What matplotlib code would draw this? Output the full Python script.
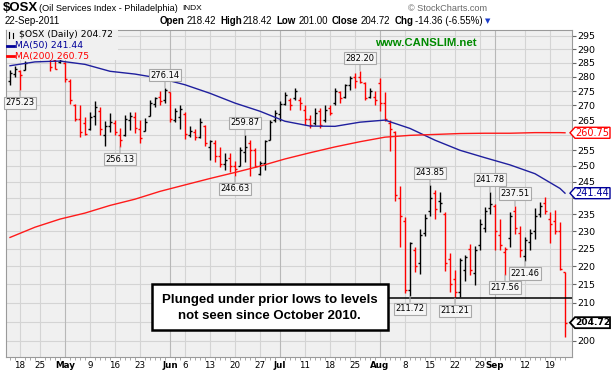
import matplotlib
matplotlib.use('Agg')
import matplotlib.pyplot as plt
import numpy as np
import pandas as pd
from matplotlib.patches import Polygon, Rectangle
from matplotlib.lines import Line2D
from matplotlib.ticker import NullLocator, NullFormatter

# trading days on the chart (market holidays removed)
holidays = ['2011-04-22', '2011-05-30', '2011-07-04', '2011-09-05']
dates = pd.bdate_range('2011-04-14', '2011-09-22')
dates = dates[~dates.isin(pd.to_datetime(holidays))]

opens = [278.5, 281.0, 282.0, 282.5, 286.8, 289.5, 289.5, 287.5, 288.5, 286.0,
         285.2, 285.0, 278.5, 270.0, 265.5, 264.0, 262.0, 266.5, 268.0, 260.0,
         263.0, 264.0, 260.0, 260.0, 265.0, 266.0, 262.0, 261.5, 266.5, 270.5,
         273.0, 272.0, 274.5, 265.0, 266.0, 267.0, 260.0, 261.0, 259.5, 263.0,
         256.0, 257.5, 253.0, 250.5, 252.5, 250.0, 250.0, 254.5, 257.5, 255.0,
         247.5, 251.0, 258.5, 265.0, 267.0, 270.5, 272.0, 272.5, 272.0, 268.5,
         265.5, 264.0, 268.0, 265.0, 269.0, 271.0, 274.5, 273.0, 277.0, 280.0,
         280.0, 278.0, 273.0, 273.0, 278.0, 271.0, 264.0, 261.0, 240.0, 233.0,
         213.5, 224.5, 221.0, 229.5, 236.0, 241.5, 239.0, 235.0, 222.0, 216.5,
         213.0, 219.0, 225.0, 218.0, 226.0, 231.0, 237.0, 237.5, 229.0, 224.0,
         228.0, 236.0, 229.5, 223.0, 227.0, 230.0, 235.0, 238.5, 233.5, 233.0,
         230.0, 218.42]
highs = [282.5, 283.8, 282.3, 285.7, 289.5, 291.0, 290.5, 290.0, 289.5, 287.5,
         288.5, 285.3, 279.2, 270.5, 270.2, 266.0, 267.9, 271.4, 269.3, 264.6,
         267.5, 265.0, 262.3, 266.7, 267.9, 267.9, 265.0, 265.6, 271.9, 273.0,
         275.0, 276.14, 274.7, 269.0, 270.2, 267.6, 263.0, 262.0, 265.6, 263.3,
         258.5, 258.5, 256.0, 254.0, 254.0, 251.5, 256.0, 259.87, 258.4, 255.8,
         251.5, 258.5, 265.0, 268.4, 271.4, 274.5, 272.5, 276.1, 273.0, 270.2,
         266.7, 269.2, 269.2, 270.2, 270.2, 276.1, 275.0, 277.5, 280.2, 281.4,
         282.2, 278.3, 276.0, 275.0, 279.5, 274.5, 265.0, 261.2, 243.6, 234.2,
         227.0, 225.5, 230.6, 235.0, 243.85, 242.4, 241.9, 235.8, 223.6, 219.0,
         222.4, 223.2, 226.3, 225.8, 233.7, 237.2, 241.78, 238.2, 233.7, 225.5,
         235.8, 237.51, 231.6, 228.3, 230.8, 237.0, 238.8, 240.3, 235.8, 236.3,
         232.6, 218.42]
lows = [277.1, 280.0, 275.23, 282.3, 286.5, 287.5, 286.6, 286.6, 282.2, 282.8,
        284.9, 278.2, 270.6, 264.6, 259.2, 260.0, 261.7, 263.5, 259.9, 256.4,
        261.0, 259.9, 256.13, 259.8, 261.7, 260.6, 257.3, 261.2, 266.3, 269.6,
        270.2, 271.0, 264.3, 264.2, 262.0, 258.6, 259.2, 258.4, 259.0, 256.4,
        252.0, 251.3, 249.5, 248.7, 248.2, 246.63, 249.8, 251.3, 246.9, 249.5,
        247.0, 248.7, 258.3, 264.3, 264.6, 270.2, 268.4, 271.9, 268.4, 263.3,
        262.4, 263.3, 262.4, 264.3, 266.7, 270.2, 270.9, 272.5, 275.3, 276.1,
        278.0, 271.9, 272.5, 270.2, 268.0, 264.6, 254.7, 238.9, 225.5, 212.5,
        211.72, 218.3, 217.9, 228.5, 234.5, 233.7, 235.8, 218.6, 213.0, 211.21,
        211.5, 216.0, 217.5, 214.7, 224.6, 229.7, 235.0, 224.6, 224.6, 217.56,
        225.5, 229.3, 222.6, 221.46, 224.6, 227.8, 234.2, 235.1, 226.5, 229.1,
        218.9, 201.0]
closes = [281.5, 283.0, 280.8, 285.0, 289.0, 290.0, 287.5, 289.0, 283.5, 283.0,
          286.5, 279.2, 271.9, 265.5, 261.0, 260.5, 266.0, 269.5, 262.0, 263.0,
          264.5, 261.0, 258.5, 265.5, 266.5, 262.5, 259.0, 264.5, 271.0, 272.5,
          271.5, 275.5, 265.5, 268.0, 268.8, 260.5, 261.5, 259.3, 264.5, 257.5,
          258.0, 253.0, 250.5, 252.0, 250.0, 249.0, 255.0, 256.0, 255.0, 250.0,
          251.0, 258.0, 264.5, 267.5, 270.5, 273.5, 270.0, 275.0, 271.0, 265.5,
          263.5, 267.5, 263.5, 268.5, 267.5, 275.0, 272.5, 277.0, 279.5, 278.5,
          278.2, 272.5, 275.0, 272.0, 271.0, 265.5, 262.0, 241.0, 234.5, 213.5,
          226.5, 220.0, 229.0, 234.0, 240.0, 236.5, 238.5, 221.0, 215.0, 213.0,
          221.7, 222.5, 219.0, 224.5, 232.0, 236.0, 238.0, 230.0, 226.0, 225.0,
          234.5, 231.0, 224.5, 227.5, 229.5, 234.5, 237.5, 236.0, 232.0, 230.0,
          219.08, 204.72]

# moving averages every 5th session
ma_idx = list(range(0, 111, 5)) + [111]
ma50 = [284.0, 285.4, 285.7, 284.5, 282.0, 281.0, 279.5, 277.2, 274.2, 270.8,
        268.0, 264.6, 263.0, 262.9, 264.3, 265.0, 262.2, 258.3, 255.0, 252.6,
        250.3, 247.5, 242.9, 241.44]
ma200 = [228.2, 231.2, 233.6, 235.4, 237.7, 239.6, 242.0, 244.0, 246.0, 247.9,
         249.9, 252.2, 254.2, 256.1, 257.8, 259.3, 259.9, 260.2, 260.5, 260.6,
         260.6, 260.8, 260.8, 260.75]

tick_dates = ['2011-04-18', '2011-04-25', '2011-05-02', '2011-05-09', '2011-05-16',
              '2011-05-23', '2011-06-01', '2011-06-06', '2011-06-13', '2011-06-20',
              '2011-06-27', '2011-07-01', '2011-07-11', '2011-07-18', '2011-07-25',
              '2011-08-01', '2011-08-08', '2011-08-15', '2011-08-22', '2011-08-29',
              '2011-09-01', '2011-09-12', '2011-09-19']
tick_labels = ['18', '25', 'May', '9', '16', '23', 'Jun', '6', '13', '20', '27', 'Jul',
               '11', '18', '25', 'Aug', '8', '15', '22', '29', 'Sep', '12', '19']

mark_dates = ['2011-04-18', '2011-05-17', '2011-05-31', '2011-06-20', '2011-06-22',
              '2011-07-26', '2011-08-09', '2011-08-15', '2011-08-22', '2011-08-31',
              '2011-09-06', '2011-09-08', '2011-09-12']
mark_vals = [275.23, 256.13, 276.14, 246.63, 259.87, 282.20, 211.72, 243.85, 211.21,
             241.78, 217.56, 237.51, 221.46]
mark_side = ['low', 'low', 'high', 'low', 'high', 'high', 'low', 'high', 'low',
             'high', 'low', 'high', 'low']

support = 211.21
last_close, last_ma50, last_ma200 = 204.72, 241.44, 260.75

W, H = 614, 379
def fx(px):
    return px / W
def fy(py):
    return 1 - py / H

fig = plt.figure(figsize=(6.14, 3.79), dpi=100)
fig.patch.set_facecolor('white')
L, R, T, B = 6, 572, 29.5, 357
ax = fig.add_axes([fx(L), fy(B), (R - L) / W, (B - T) / H])
ax.set_facecolor('#f0f0f0')
ax.set_yscale('log')
n = len(dates)
x = np.arange(n)
ax.set_xlim(-0.8, n + 0.4)
ax.set_ylim(195.96, 297.42)

# grid
tick_pos = [dates.get_loc(pd.Timestamp(d)) for d in tick_dates]
yt = np.arange(200, 300, 5)
for v in yt:
    ax.axhline(v, color='#d4d4d4', lw=0.8, zorder=0.5)
for p, lab in zip(tick_pos, tick_labels):
    ax.axvline(p, color='#b8b8b8' if lab.isalpha() else '#d4d4d4', lw=0.8, zorder=0.5)

# OHLC bars, red when close is below the previous close
cols = ['black'] + ['black' if closes[i] >= closes[i - 1] else 'red' for i in range(1, n)]
ax.vlines(x, lows, highs, colors=cols, lw=1.0, zorder=2)
ax.hlines(opens, x - 0.42, x, colors=cols, lw=1.0, zorder=2)
ax.hlines(closes, x, x + 0.42, colors=cols, lw=1.0, zorder=2)

ax.plot(ma_idx, ma50, color='#1f1f9e', lw=1.0, zorder=3)
ax.plot(ma_idx, ma200, color='#ff1a1a', lw=1.0, zorder=3)

ax.hlines(support, 60, n + 0.4, color='black', lw=1.1, zorder=3)

# axes; the labels hidden behind the value tags are left blank
tagged = [205, 240, 260]
ax.set_yticks(yt)
ax.set_yticklabels(['' if v in tagged else str(v) for v in yt])
ax.yaxis.set_minor_locator(NullLocator())
ax.yaxis.set_minor_formatter(NullFormatter())
ax.yaxis.tick_right()
ax.tick_params(axis='y', which='major', length=3, width=0.8, color='#666666',
               labelsize=6.8, pad=1)
ax.set_xticks(tick_pos)
ax.set_xticklabels(tick_labels, fontsize=6.3)
for lab in ax.get_xticklabels():
    if lab.get_text().isalpha():
        lab.set_fontweight('bold')
ax.set_xticks(x, minor=True)
ax.tick_params(axis='x', which='major', length=0, pad=3)
ax.tick_params(axis='x', which='minor', length=2, color='#999999')
for s in ax.spines.values():
    s.set_color('#9a9a9a')
    s.set_linewidth(0.8)

# high / low labels
for d, v, side in zip(mark_dates, mark_vals, mark_side):
    i = dates.get_loc(pd.Timestamp(d))
    up = side == 'high'
    ax.annotate(f'{v:.2f}', xy=(i, v), xytext=(0, 8 if up else -8),
                textcoords='offset pixels', ha='center', va='bottom' if up else 'top',
                fontsize=6, color='black',
                bbox=dict(boxstyle='square,pad=0.2', fc='#f6f6f6', ec='#a8a8a8', lw=0.8),
                arrowprops=dict(arrowstyle='-', color='#a8a8a8', lw=0.8,
                                shrinkA=0, shrinkB=0),
                zorder=6)

# legend block in the top-left corner
ax.add_patch(Rectangle((fx(6.5), fy(59.5)), fx(118) - fx(6.5), fy(30) - fy(59.5),
                       transform=fig.transFigure, fc='#f0f0f0', ec='none', zorder=4))
for xx, y0, y1 in [(9, 31.5, 37.5), (13, 33, 38)]:
    ax.add_line(Line2D([fx(xx), fx(xx)], [fy(y0), fy(y1)], transform=fig.transFigure,
                       color='black', lw=0.8, zorder=5))
ax.text(fx(19), fy(34.5), f'$OSX (Daily) {last_close:.2f}', transform=fig.transFigure,
        fontsize=6.7, va='center', zorder=5)
ax.add_line(Line2D([fx(7), fx(14)], [fy(45.5), fy(45.5)], transform=fig.transFigure,
                   color='#000099', lw=2, zorder=5))
ax.text(fx(15), fy(45.5), f'MA(50) {last_ma50:.2f}', transform=fig.transFigure,
        fontsize=6.7, va='center', color='#000099', zorder=5)
ax.add_line(Line2D([fx(7), fx(14)], [fy(56), fy(56)], transform=fig.transFigure,
                   color='red', lw=2, zorder=5))
ax.text(fx(15), fy(56), f'MA(200) {last_ma200:.2f}', transform=fig.transFigure,
        fontsize=6.7, va='center', color='red', zorder=5)

fig.text(fx(375), fy(42.5), 'www.CANSLIM.net', fontsize=8.2, fontweight='bold',
         family='Liberation Sans', color='#008a00', va='center')

# comment box
fig.add_artist(Rectangle((fx(152), fy(330)), fx(388) - fx(152), fy(284) - fy(330),
                         transform=fig.transFigure, fc='white', ec='black', lw=1.8,
                         zorder=4))
fig.text(fx(270), fy(299.5), 'Plunged under prior lows to levels', ha='center',
         va='center', fontsize=9.5, fontweight='bold', family='Liberation Sans', zorder=5)
fig.text(fx(269), fy(316), 'not seen since October 2010.', ha='center',
         va='center', fontsize=9.5, fontweight='bold', family='Liberation Sans', zorder=5)

# value tags on the right axis
def value_tag(v, color, bold=False):
    yd = ax.transData.transform((0, v))[1] / H
    h = 5.5 / H
    pts = [(fx(570), yd), (fx(575), yd + h), (fx(610), yd + h), (fx(610), yd - h),
           (fx(575), yd - h)]
    fig.add_artist(Polygon(pts, closed=True, transform=fig.transFigure, fc='white',
                           ec=color, lw=1.3 if bold else 1.0, zorder=5))
    fig.text(fx(592.5), yd, f'{v:.2f}', color=color, fontsize=6.6 if bold else 7,
             ha='center', va='center', fontweight='bold' if bold else 'normal', zorder=6)

value_tag(last_ma200, 'red')
value_tag(last_ma50, '#000099')
value_tag(last_close, 'black', bold=True)

# header
fig.text(fx(3), fy(8), '$OSX', fontsize=9.5, fontweight='bold', family='Liberation Sans',
         va='center')
fig.text(fx(39), fy(8.5), '(Oil Services Index - Philadelphia)', fontsize=6.6,
         family='Liberation Sans', va='center')
fig.text(fx(182), fy(8.5), 'INDX', fontsize=6, family='Liberation Sans', va='center')
fig.text(fx(487), fy(8.5), '\u00a9 StockCharts.com', fontsize=6.6, color='#666666',
         family='Liberation Sans', ha='right', va='center')
fig.text(fx(5), fy(21.5), '22-Sep-2011', fontsize=7, family='Liberation Sans', va='center')
head = [(160, 'Open', True), (187, '218.42', False), (220, 'High', True),
        (243, '218.42', False), (276, 'Low', True), (299, '201.00', False),
        (332, 'Close', True), (361, '204.72', False), (395, 'Chg', True),
        (415, '-14.36 (-6.55%)', False)]
for px, s, b in head:
    fig.text(fx(px), fy(21.5), s, fontsize=7, family='Liberation Sans', va='center',
             fontweight='bold' if b else 'normal')
fig.text(fx(485), fy(21.5), '\u25bc', fontsize=5, color='#1a3ccc', va='center',
         family='DejaVu Sans')

fig.savefig('out.png', dpi=100)
